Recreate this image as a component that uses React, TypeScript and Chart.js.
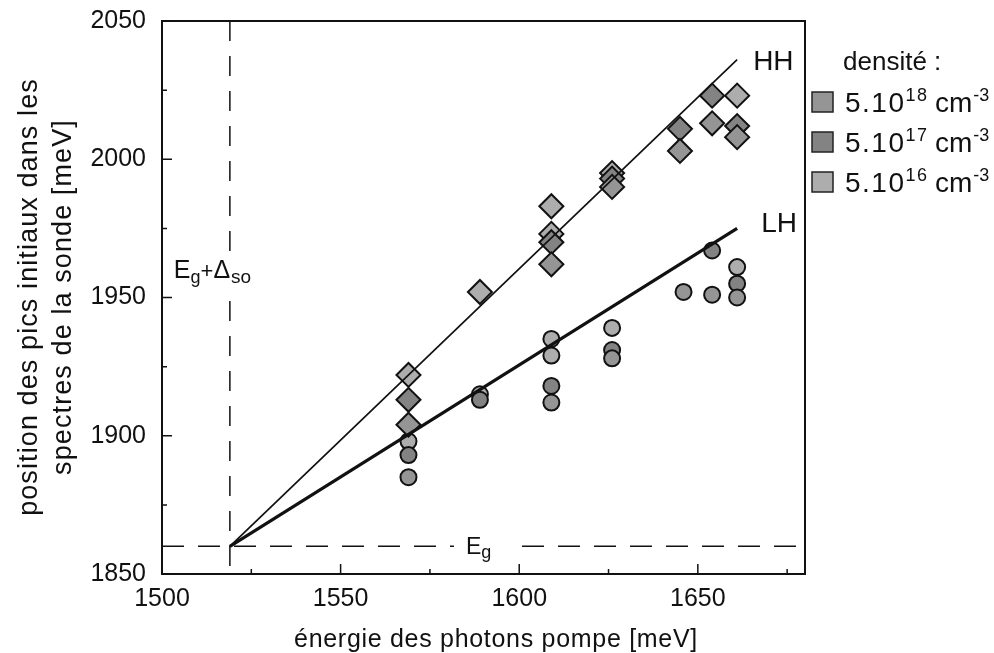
import React, { useEffect, useRef } from 'react';
import { Chart, registerables } from 'chart.js';

Chart.register(...registerables);

const FONT = "'Liberation Sans', Arial, Helvetica, sans-serif";

// axis ranges & ticks
const X_RANGE = [1500, 1680];
const Y_RANGE = [1850, 2050];
const X_TICKS = [1500, 1550, 1600, 1650];
const X_MINOR = [1525, 1575, 1625, 1675];
const Y_TICKS = [1850, 1900, 1950, 2000, 2050];
const Y_MINOR = [1875, 1925, 1975, 2025];

// reference energies
const EG_X = 1519; // pump energy of band gap
const EG_Y = 1860; // probe energy level Eg (+Δso)

// fitted lines
const FIT_X = [1519, 1661];
const HH_FIT_Y = [1860, 2036];
const LH_FIT_Y = [1860, 1975];

// HH peaks (diamonds)
const HH_5E18_X = [1569, 1609, 1626, 1645, 1654, 1661];
const HH_5E18_Y = [1904, 1962, 1990, 2003, 2013, 2008];
const HH_5E17_X = [1569, 1609, 1626, 1645, 1654, 1661];
const HH_5E17_Y = [1913, 1970, 1993, 2011, 2023, 2012];
const HH_5E16_X = [1569, 1589, 1609, 1609, 1626, 1661];
const HH_5E16_Y = [1922, 1952, 1973, 1983, 1995, 2023];

// LH peaks (circles)
const LH_5E18_X = [1569, 1609, 1626, 1646, 1654, 1661];
const LH_5E18_Y = [1885, 1912, 1928, 1952, 1951, 1950];
const LH_5E17_X = [1569, 1589, 1609, 1626, 1654, 1661];
const LH_5E17_Y = [1893, 1913, 1918, 1931, 1967, 1955];
const LH_5E16_X = [1569, 1589, 1609, 1609, 1626, 1661];
const LH_5E16_Y = [1898, 1915, 1929, 1935, 1939, 1961];

// legend
const DENSITY_MANTISSA = ['5.10', '5.10', '5.10'];
const DENSITY_EXP = ['18', '17', '16'];
const DENSITY_COLORS = ['#959595', '#838383', '#adadad'];

const pts = (xs: number[], ys: number[]) => xs.map((x, i) => ({ x, y: ys[i] }));

function drawParts(
  ctx: CanvasRenderingContext2D,
  parts: { t: string; size: number; dy: number; gap?: number }[],
  x: number,
  y: number
) {
  let cx = x;
  for (const p of parts) {
    ctx.font = `${p.size}px ${FONT}`;
    cx += p.gap || 0;
    ctx.fillText(p.t, cx, y + p.dy);
    cx += ctx.measureText(p.t).width;
  }
  return cx;
}

const annotPlugin = {
  id: 'annot',
  afterDatasetsDraw(chart: any) {
    const { ctx, chartArea: a, scales } = chart;
    const xs = scales.x;
    const ys = scales.y;
    ctx.save();
    ctx.strokeStyle = '#111';
    ctx.fillStyle = '#111';
    ctx.lineWidth = 2;
    // frame top/right
    ctx.beginPath();
    ctx.moveTo(a.left, a.top);
    ctx.lineTo(a.right, a.top);
    ctx.lineTo(a.right, a.bottom);
    ctx.stroke();
    // inward ticks
    ctx.lineWidth = 1.5;
    ctx.beginPath();
    X_TICKS.forEach((v) => {
      const px = xs.getPixelForValue(v);
      ctx.moveTo(px, a.bottom);
      ctx.lineTo(px, a.bottom - 10);
    });
    X_MINOR.forEach((v) => {
      const px = xs.getPixelForValue(v);
      ctx.moveTo(px, a.bottom);
      ctx.lineTo(px, a.bottom - 5);
    });
    Y_TICKS.forEach((v) => {
      const py = ys.getPixelForValue(v);
      ctx.moveTo(a.left, py);
      ctx.lineTo(a.left + 10, py);
    });
    Y_MINOR.forEach((v) => {
      const py = ys.getPixelForValue(v);
      ctx.moveTo(a.left, py);
      ctx.lineTo(a.left + 5, py);
    });
    ctx.stroke();

    ctx.textAlign = 'left';
    ctx.textBaseline = 'alphabetic';

    // Eg label on the horizontal dashed line
    const egCx = xs.getPixelForValue(1589);
    const egPy = ys.getPixelForValue(EG_Y);
    ctx.fillStyle = '#fff';
    ctx.fillRect(egCx - 26, egPy - 13, 58, 26);
    ctx.fillStyle = '#111';
    drawParts(
      ctx,
      [
        { t: 'E', size: 23, dy: 0 },
        { t: 'g', size: 18, dy: 4 },
      ],
      egCx - 14,
      egPy + 8
    );

    // Eg+Δso label on the vertical dashed line
    const vx = xs.getPixelForValue(EG_X);
    const vBase = ys.getPixelForValue(1957);
    ctx.fillStyle = '#fff';
    ctx.fillRect(vx - 58, vBase - 24, 92, 36);
    ctx.fillStyle = '#111';
    drawParts(
      ctx,
      [
        { t: 'E', size: 25, dy: 0 },
        { t: 'g', size: 18, dy: 5 },
        { t: '+', size: 22, dy: 0 },
        { t: 'Δ', size: 25, dy: 0 },
        { t: 'so', size: 19, dy: 5, gap: 1 },
      ],
      vx - 56,
      vBase
    );

    // HH / LH labels at line ends
    const endX = xs.getPixelForValue(FIT_X[1]);
    ctx.font = `28px ${FONT}`;
    ctx.fillText('HH', endX + 16, ys.getPixelForValue(HH_FIT_Y[1]) + 10);
    ctx.fillText('LH', endX + 24, ys.getPixelForValue(LH_FIT_Y[1]) + 4);

    // axis titles
    ctx.font = `25px ${FONT}`;
    (ctx as any).letterSpacing = '0.7px';
    ctx.textAlign = 'center';
    ctx.fillText('énergie des photons pompe [meV]', 496, 647);
    ctx.font = `27px ${FONT}`;
    (ctx as any).letterSpacing = '1.1px';
    ctx.save();
    ctx.translate(37, 297);
    ctx.rotate(-Math.PI / 2);
    ctx.fillText('position des pics initiaux dans les', 0, 0);
    ctx.restore();
    ctx.save();
    ctx.translate(71, 297);
    ctx.rotate(-Math.PI / 2);
    ctx.fillText('spectres de la sonde [meV]', 0, 0);
    ctx.restore();
    (ctx as any).letterSpacing = '0px';

    // legend
    ctx.textAlign = 'left';
    ctx.font = `26px ${FONT}`;
    ctx.fillText('densité :', 843, 70);
    DENSITY_EXP.forEach((e, i) => {
      const top = 92 + 40 * i;
      ctx.fillStyle = DENSITY_COLORS[i];
      ctx.fillRect(812, top, 21, 20);
      ctx.strokeStyle = '#222';
      ctx.lineWidth = 1.5;
      ctx.strokeRect(812, top, 21, 20);
      ctx.fillStyle = '#111';
      const base = top + 20;
      (ctx as any).letterSpacing = '1.5px';
      drawParts(
        ctx,
        [
          { t: DENSITY_MANTISSA[i], size: 28, dy: 0 },
          { t: e, size: 18, dy: -11, gap: 0 },
        ],
        845,
        base
      );
      (ctx as any).letterSpacing = '0px';
      drawParts(
        ctx,
        [
          { t: 'cm', size: 28, dy: 0 },
          { t: '-3', size: 18, dy: -11, gap: 1 },
        ],
        935,
        base
      );
    });
    ctx.restore();
  },
};

export default function App() {
  const ref = useRef<HTMLCanvasElement>(null);
  useEffect(() => {
    if (!ref.current) return;
    const diamond = (label: string, xs: number[], ys: number[], color: string) => ({
      label,
      data: pts(xs, ys),
      pointStyle: 'rectRot',
      pointRadius: 12,
      pointHoverRadius: 12,
      backgroundColor: color,
      borderColor: '#111',
      borderWidth: 2,
      showLine: false,
      order: 1,
    });
    const circle = (label: string, xs: number[], ys: number[], color: string) => ({
      label,
      data: pts(xs, ys),
      pointStyle: 'circle',
      pointRadius: 8,
      pointHoverRadius: 8,
      backgroundColor: color,
      borderColor: '#111',
      borderWidth: 2,
      showLine: false,
      order: 1,
    });
    const chart = new Chart(ref.current, {
      type: 'scatter',
      data: {
        datasets: [
          {
            label: 'HH fit',
            data: pts(FIT_X, HH_FIT_Y),
            showLine: true,
            borderColor: '#111',
            borderWidth: 1.7,
            pointRadius: 0,
            order: 0,
          },
          {
            label: 'LH fit',
            data: pts(FIT_X, LH_FIT_Y),
            showLine: true,
            borderColor: '#111',
            borderWidth: 3.2,
            pointRadius: 0,
            order: 0,
          },
          {
            label: 'Eg',
            data: pts(X_RANGE, [EG_Y, EG_Y]),
            showLine: true,
            borderColor: '#111',
            borderWidth: 1.5,
            borderDash: [22, 14],
            pointRadius: 0,
            order: 3,
          },
          {
            label: 'Eg+Δso',
            data: pts([EG_X, EG_X], [Y_RANGE[1], Y_RANGE[0]]),
            showLine: true,
            borderColor: '#111',
            borderWidth: 1.5,
            borderDash: [20, 15],
            pointRadius: 0,
            order: 3,
          },
          diamond('HH 5.10^18', HH_5E18_X, HH_5E18_Y, DENSITY_COLORS[0]),
          diamond('HH 5.10^17', HH_5E17_X, HH_5E17_Y, DENSITY_COLORS[1]),
          diamond('HH 5.10^16', HH_5E16_X, HH_5E16_Y, DENSITY_COLORS[2]),
          circle('LH 5.10^18', LH_5E18_X, LH_5E18_Y, DENSITY_COLORS[0]),
          circle('LH 5.10^17', LH_5E17_X, LH_5E17_Y, DENSITY_COLORS[1]),
          circle('LH 5.10^16', LH_5E16_X, LH_5E16_Y, DENSITY_COLORS[2]),
        ] as any,
      },
      options: {
        responsive: false,
        animation: false,
        layout: { padding: { top: 21, right: 189, left: 0, bottom: 0 } },
        plugins: {
          legend: { display: false },
          tooltip: { enabled: false },
        },
        scales: {
          x: {
            type: 'linear',
            min: X_RANGE[0],
            max: X_RANGE[1],
            afterBuildTicks: (s: any) => {
              s.ticks = X_TICKS.map((v) => ({ value: v }));
            },
            afterFit: (s: any) => {
              s.height = 79;
              s.paddingLeft = 0;
              s.paddingRight = 0;
            },
            grid: { display: false, drawTicks: false },
            border: { display: true, color: '#111', width: 2 },
            ticks: {
              padding: 10,
              color: '#111',
              font: { size: 25, family: FONT },
              maxRotation: 0,
              autoSkip: false,
              callback: (v: any) => String(v),
            },
          },
          y: {
            type: 'linear',
            min: Y_RANGE[0],
            max: Y_RANGE[1],
            afterBuildTicks: (s: any) => {
              s.ticks = Y_TICKS.map((v) => ({ value: v }));
            },
            afterFit: (s: any) => {
              s.width = 162;
              s.paddingTop = 0;
              s.paddingBottom = 0;
            },
            grid: { display: false, drawTicks: false },
            border: { display: true, color: '#111', width: 2 },
            ticks: {
              padding: 16,
              color: '#111',
              font: { size: 25, family: FONT },
              autoSkip: false,
              callback: (v: any) => String(v),
            },
          },
        },
      } as any,
      plugins: [annotPlugin],
    });
    return () => chart.destroy();
  }, []);
  return (
    <div style={{ position: 'fixed', left: 0, top: 0, width: 994, height: 653, background: '#fff' }}>
      <canvas ref={ref} width={994} height={653} style={{ display: 'block' }} />
    </div>
  );
}
